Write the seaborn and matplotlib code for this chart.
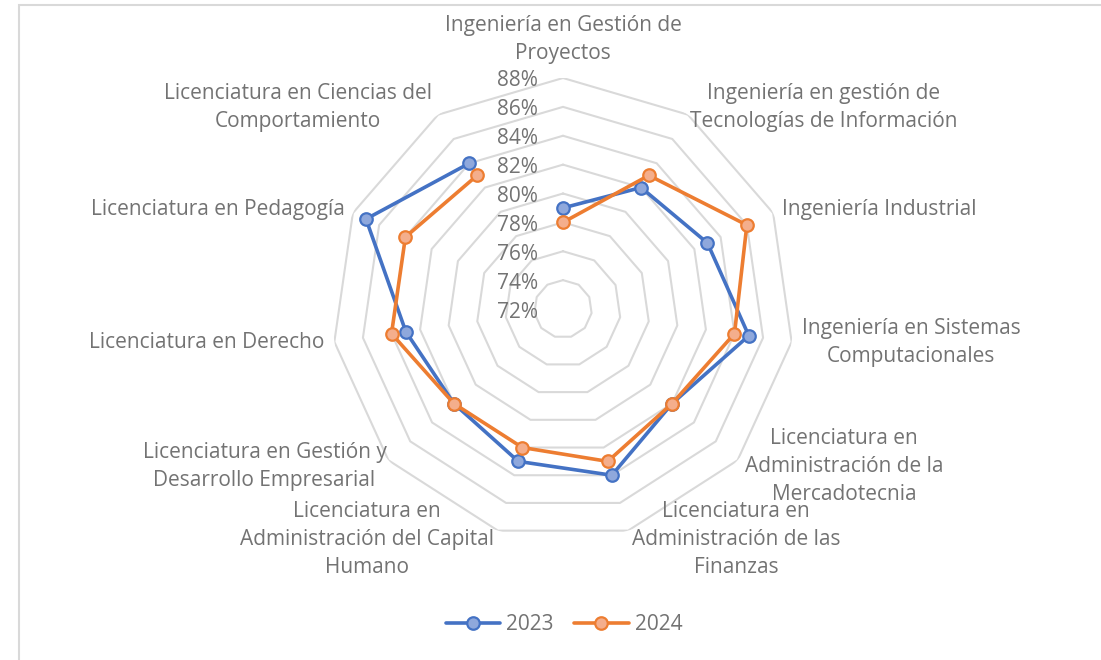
import numpy as np
import pandas as pd
import matplotlib
matplotlib.use("Agg")
import matplotlib.pyplot as plt
import seaborn as sns
from matplotlib.patches import Rectangle
from matplotlib.lines import Line2D

categories = [
    "Ingeniería en Gestión de\nProyectos",
    "Ingeniería en gestión de\nTecnologías de Información",
    "Ingeniería Industrial",
    "Ingeniería en Sistemas\nComputacionales",
    "Licenciatura en\nAdministración de la\nMercadotecnia",
    "Licenciatura en\nAdministración de las\nFinanzas",
    "Licenciatura en\nAdministración del Capital\nHumano",
    "Licenciatura en Gestión y\nDesarrollo Empresarial",
    "Licenciatura en Derecho",
    "Licenciatura en Pedagogía",
    "Licenciatura en Ciencias del\nComportamiento",
]
values_2023 = [79, 82, 83, 85, 82, 84, 83, 82, 83, 87, 84]
values_2024 = [78, 83, 86, 84, 82, 83, 82, 82, 84, 84, 83]
ring_values = [72, 74, 76, 78, 80, 82, 84, 86, 88]
ring_labels = ["72%", "74%", "76%", "78%", "80%", "82%", "84%", "86%", "88%"]
series_names = ["2023", "2024"]

sns.set_theme(style="white")
plt.rcParams['font.family'] = ['Open Sans', 'DejaVu Sans']

TEXT = "#737373"
BLUE = "#4472C4"
ORANGE = "#ED7D31"
BLUE_FACE = "#8FA8DC"
ORANGE_FACE = "#F4AE8C"
FS = 15

fig = plt.figure(figsize=(11.01, 6.60), dpi=100)
fig.patch.set_facecolor("white")
fig.patches.append(Rectangle((19/1101, -0.1), 1.2, (660-5)/660 + 0.1, transform=fig.transFigure,
                             fill=False, edgecolor="#d9d9d9", linewidth=1.5))

cx, cy, R = 563, 309, 231
W, H = 1101, 660
ax = fig.add_axes([(cx-R)/W, (H-cy-R)/H, 2*R/W, 2*R/H], projection="polar")
ax.set_theta_zero_location("N")
ax.set_theta_direction(-1)
ax.set_ylim(72, 88)
ax.grid(False)
ax.spines["polar"].set_visible(False)
ax.set_xticks([])
ax.set_yticks([])
ax.set_facecolor("none")

n = len(categories)
theta = np.arange(n) * 2 * np.pi / n
theta_closed = np.append(theta, theta[0])

for v in ring_values[1:]:
    ax.plot(theta_closed, [v] * (n + 1), color="#d9d9d9", linewidth=1.5, zorder=1)

for v, lab in zip(ring_values, ring_labels):
    ax.annotate(lab, xy=(0, v), xycoords="data", xytext=(-25, -3), textcoords="offset pixels",
                ha="right", va="center", fontsize=FS, color=TEXT, zorder=2)

df = pd.DataFrame({
    "theta": np.concatenate([theta_closed, theta_closed]),
    "value": values_2023 + [values_2023[0]] + values_2024 + [values_2024[0]],
    "year": [series_names[0]] * (n + 1) + [series_names[1]] * (n + 1),
})
for name, col, face in [(series_names[0], BLUE, BLUE_FACE), (series_names[1], ORANGE, ORANGE_FACE)]:
    sub = df[df["year"] == name]
    sns.lineplot(data=sub, x="theta", y="value", sort=False, ax=ax, color=col, linewidth=2.6,
                 marker="o", markersize=9, markerfacecolor=face, markeredgecolor=col,
                 markeredgewidth=1.6, zorder=3, legend=False)
ax.set_xlabel("")
ax.set_ylabel("")
ax.set_ylim(72, 88)

label_style = [
    ("center", "bottom", (0, 14)),
    ("left", "center", (2, 7)),
    ("left", "center", (9, 4)),
    ("left", "center", (10, -1)),
    ("left", "center", (7, -6)),
    ("left", "center", (4, -9)),
    ("right", "center", (-4, -9)),
    ("right", "center", (-2, -6)),
    ("right", "center", (-10, -1)),
    ("right", "center", (-8, 4)),
    ("right", "center", (-6, 7)),
]
for t, lab, (ha, va, off) in zip(theta, categories, label_style):
    ax.annotate(lab, xy=(t, 88), xycoords="data", xytext=off, textcoords="offset pixels",
                ha=ha, va=va, multialignment="center", fontsize=FS, color=TEXT,
                linespacing=1.45, annotation_clip=False)

handles = [
    Line2D([0], [0], color=BLUE, linewidth=2.6, marker="o", markersize=9,
           markerfacecolor=BLUE_FACE, markeredgecolor=BLUE, markeredgewidth=1.6),
    Line2D([0], [0], color=ORANGE, linewidth=2.6, marker="o", markersize=9,
           markerfacecolor=ORANGE_FACE, markeredgecolor=ORANGE, markeredgewidth=1.6),
]
leg = fig.legend(handles, series_names, loc="center", bbox_to_anchor=(564/W, 1 - 625/H), ncol=2,
                 frameon=False, fontsize=FS, handlelength=2.6, handletextpad=0.3,
                 columnspacing=1.0)
for t in leg.get_texts():
    t.set_color(TEXT)

fig.savefig("out.png", dpi=100)
